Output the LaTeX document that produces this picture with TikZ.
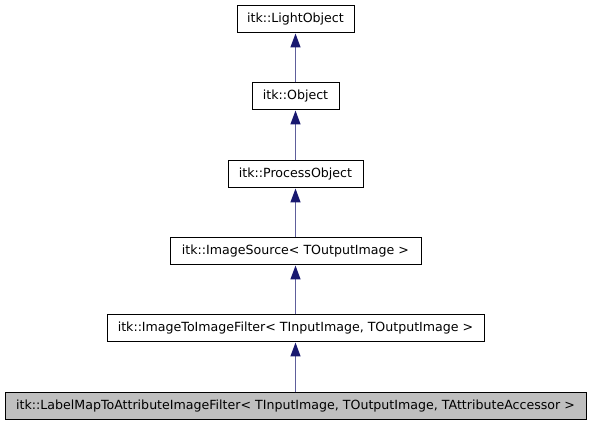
\documentclass[tikz,border=0pt]{standalone}
\usepackage{fontspec}
\setmainfont{DejaVu Sans}
\usetikzlibrary{arrows.meta}
\definecolor{edgeblue}{HTML}{191970}
\definecolor{boxgray}{HTML}{BFBFBF}
\begin{document}
\begin{tikzpicture}[x=1pt,y=-1pt,
  cls/.style={draw=black, fill=white, line width=1pt, inner sep=0pt, font=\fontsize{12.6}{15}\selectfont, text height=9.5pt, text depth=2.6pt},
  inh/.style={draw=edgeblue!70, line width=1.4pt, -{Triangle[width=10pt,length=14pt,color=edgeblue,fill=edgeblue]}}]
\useasboundingbox (0,0) rectangle (592,427);
\node[cls, minimum width=117pt, minimum height=27pt] (lo) at (295.5,19.5) {itk::LightObject};
\node[cls, minimum width=87pt, minimum height=27pt] (ob) at (295.5,96.5) {itk::Object};
\node[cls, minimum width=135pt, minimum height=27pt] (po) at (295.5,174.5) {itk::ProcessObject};
\node[cls, minimum width=251pt, minimum height=27pt] (is) at (295.5,251.5) {itk::ImageSource< TOutputImage >};
\node[cls, minimum width=377pt, minimum height=27pt] (if) at (295.5,328.5) {itk::ImageToImageFilter< TInputImage, TOutputImage >};
\node[cls, fill=boxgray, minimum width=581pt, minimum height=27pt] (lm) at (295.5,406.5) {itk::LabelMapToAttributeImageFilter< TInputImage, TOutputImage, TAttributeAccessor >};
\draw[inh] (ob) -- (lo);
\draw[inh] (po) -- (ob);
\draw[inh] (is) -- (po);
\draw[inh] (if) -- (is);
\draw[inh] (lm) -- (if);
\end{tikzpicture}
\end{document}
